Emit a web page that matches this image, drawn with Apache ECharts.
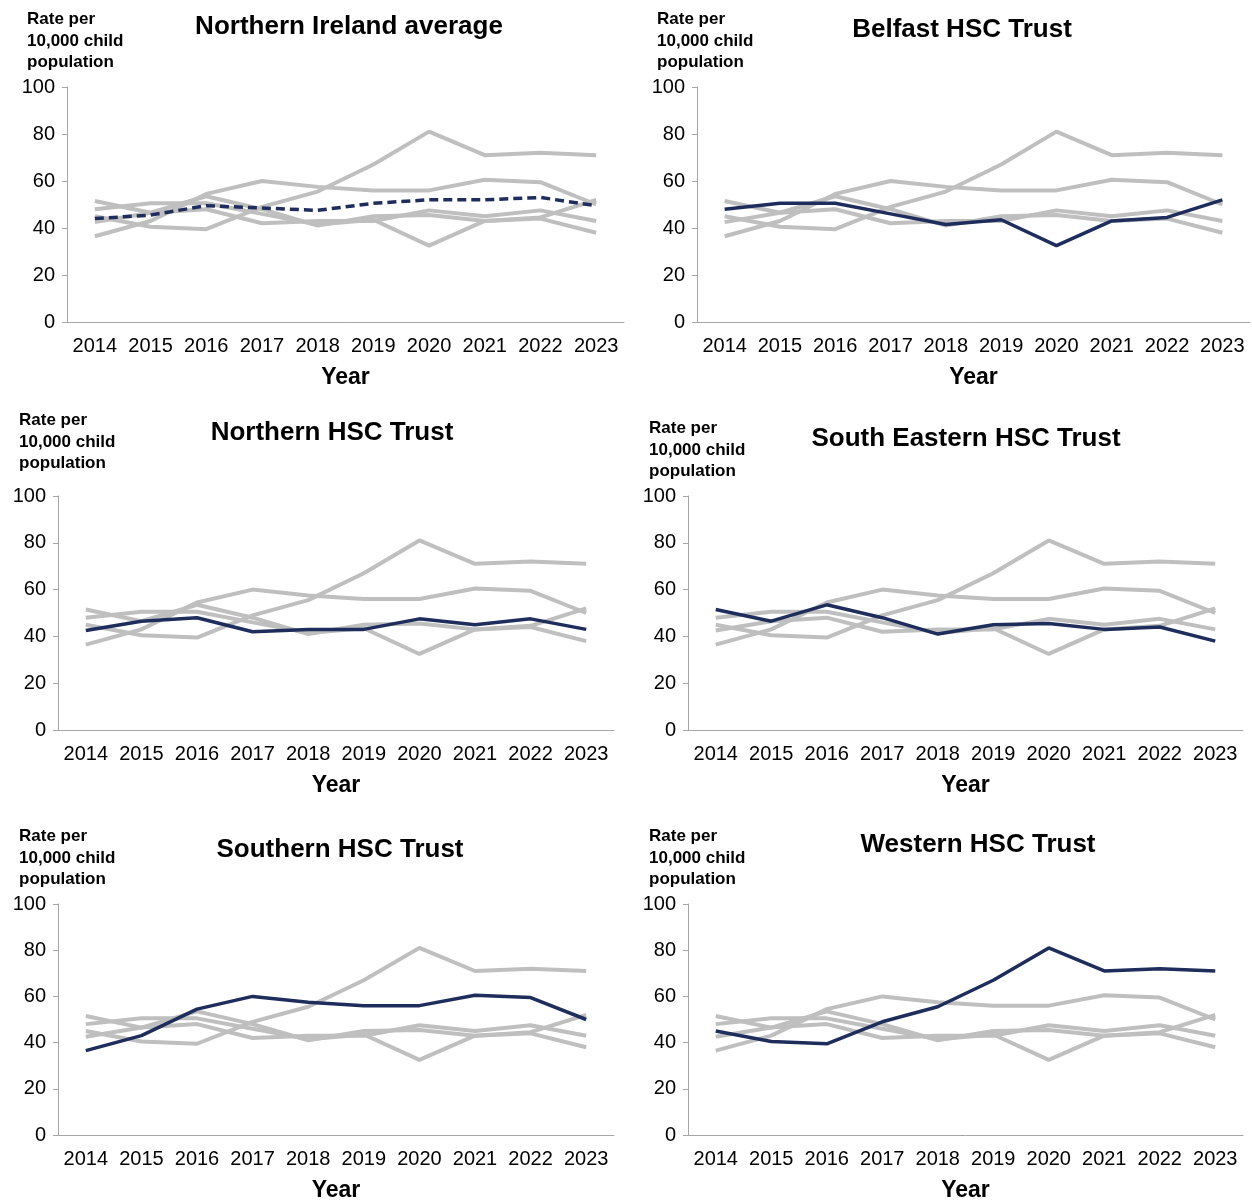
<!DOCTYPE html>
<html><head><meta charset="utf-8">
<script src="https://cdn.jsdelivr.net/npm/echarts@6/dist/echarts.min.js"></script>
<style>html,body{margin:0;background:#fff}#c{width:1252px;height:1203px}</style>
</head><body><div id="c"></div>
<script>
const years = ['2014','2015','2016','2017','2018','2019','2020','2021','2022','2023'];
const niAverage = [44, 45.5, 49.5, 48.5, 47.5, 50.5, 52, 52, 53, 49.5];
const belfast = [48, 50.5, 50.5, 46, 41.5, 43.5, 32.5, 43, 44.5, 52];
const northern = [42.5, 46.5, 48, 42, 43, 43, 47.5, 45, 47.5, 43];
const southEastern = [51.5, 46.5, 53.5, 48, 41, 45, 45.5, 43, 44, 38];
const southern = [36.5, 43, 54.5, 60, 57.5, 56, 56, 60.5, 59.5, 50];
const western = [45, 40.5, 39.5, 49, 55.5, 67, 81, 71, 72, 71];

const trusts = [belfast, northern, southEastern, southern, western];
const panels = [
  {title: 'Northern Ireland average', data: niAverage, dashed: true, left: 67, right: 624, top: 87, h: 235, tx: 349, ty: 14, lx: 27, ly: 9},
  {title: 'Belfast HSC Trust', data: belfast, left: 697, right: 1250, top: 87, h: 235, tx: 962, ty: 17, lx: 657, ly: 9},
  {title: 'Northern HSC Trust', data: northern, left: 58, right: 614, top: 496, h: 234, tx: 332, ty: 420, lx: 19, ly: 410},
  {title: 'South Eastern HSC Trust', data: southEastern, left: 688, right: 1243, top: 496, h: 234, tx: 966, ty: 426, lx: 649, ly: 418},
  {title: 'Southern HSC Trust', data: southern, left: 58, right: 614, top: 904, h: 235, tx: 340, ty: 837, lx: 19, ly: 826},
  {title: 'Western HSC Trust', data: western, left: 688, right: 1243, top: 904, h: 235, tx: 978, ty: 832, lx: 649, ly: 826}
];

const grid = [], xAxis = [], yAxis = [], series = [], graphic = [];
const axisCol = '#a6a6a6';
panels.forEach((p, i) => {
  grid.push({left: p.left, width: p.right - p.left, top: p.top, height: p.h});
  xAxis.push({type: 'category', gridIndex: i, data: years, boundaryGap: true,
    name: 'Year', nameLocation: 'middle', nameGap: 44,
    nameTextStyle: {fontFamily: 'Liberation Sans', fontWeight: 'bold', fontSize: 23, color: '#000'},
    axisLine: {lineStyle: {color: axisCol}}, axisTick: {lineStyle: {color: axisCol}, length: 5},
    axisLabel: {fontFamily: 'Liberation Sans', fontSize: 20, color: '#000', margin: 14, interval: 0}});
  yAxis.push({type: 'value', gridIndex: i, min: 0, max: 100, interval: 20,
    axisLine: {show: true, lineStyle: {color: axisCol}}, axisTick: {show: true, lineStyle: {color: axisCol}, length: 5},
    splitLine: {show: false},
    axisLabel: {fontFamily: 'Liberation Sans', fontSize: 20, color: '#000', margin: 12}});
  trusts.filter(t => t !== p.data).forEach(t => series.push({type: 'line', xAxisIndex: i, yAxisIndex: i,
    data: t, showSymbol: false, lineStyle: {color: '#bfbfbf', width: 4}, silent: true}));
  series.push({type: 'line', xAxisIndex: i, yAxisIndex: i, data: p.data, showSymbol: false, z: 5,
    lineStyle: {color: '#1f2d5c', width: 3.5, type: p.dashed ? [9, 5] : 'solid'}});
  graphic.push({type: 'text', x: p.tx, y: p.ty, style: {text: p.title, textAlign: 'center',
    font: 'bold 26px "Liberation Sans"', fill: '#000'}});
  graphic.push({type: 'text', x: p.lx, y: p.ly, style: {text: 'Rate per\n10,000 child\npopulation',
    font: 'bold 17px "Liberation Sans"', lineHeight: 21.5, fill: '#000'}});
});

const chart = echarts.init(document.getElementById('c'));
chart.setOption({animation: false, grid, xAxis, yAxis, series, graphic});
</script></body></html>
